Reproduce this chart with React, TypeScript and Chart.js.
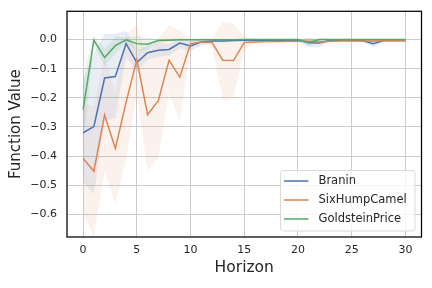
import React, { useEffect, useRef } from 'react';
import { Chart, registerables } from 'chart.js';

Chart.register(...registerables);

const horizon = [0, 1, 2, 3, 4, 5, 6, 7, 8, 9, 10, 11, 12, 13, 14, 15, 16, 17, 18, 19, 20, 21, 22, 23, 24, 25, 26, 27, 28, 29, 30];

const braninMean = [-0.32, -0.299, -0.132, -0.127, -0.014, -0.079, -0.045, -0.037, -0.034, -0.012, -0.022, -0.008, -0.005, -0.005, -0.003, -0.002, -0.002, -0.002, -0.002, -0.002, -0.002, -0.011, -0.012, -0.002, -0.002, -0.002, -0.003, -0.014, -0.003, -0.002, -0.003];
const braninLow = [-0.49, -0.53, -0.28, -0.27, -0.06, -0.11, -0.07, -0.06, -0.055, -0.03, -0.04, -0.02, -0.01, -0.01, -0.008, -0.006, -0.006, -0.006, -0.006, -0.006, -0.006, -0.026, -0.027, -0.006, -0.006, -0.006, -0.007, -0.028, -0.007, -0.006, -0.007];
const braninHigh = [-0.14, -0.05, 0.02, 0.02, 0.03, -0.04, -0.02, -0.01, -0.015, 0.005, -0.005, 0.004, 0.0, 0.0, 0.002, 0.002, 0.002, 0.002, 0.002, 0.002, 0.002, 0.004, 0.003, 0.002, 0.002, 0.002, 0.001, 0.0, 0.001, 0.002, 0.001];

const camelMean = [-0.408, -0.452, -0.259, -0.374, -0.216, -0.069, -0.258, -0.21, -0.071, -0.129, -0.014, -0.008, -0.01, -0.071, -0.072, -0.01, -0.008, -0.007, -0.007, -0.006, -0.006, -0.006, -0.008, -0.006, -0.005, -0.005, -0.005, -0.005, -0.004, -0.004, -0.004];
const camelLow = [-0.6, -0.675, -0.456, -0.565, -0.41, -0.19, -0.45, -0.405, -0.186, -0.278, -0.03, -0.02, -0.025, -0.21, -0.2, -0.03, -0.014, -0.012, -0.012, -0.011, -0.011, -0.011, -0.014, -0.011, -0.01, -0.01, -0.01, -0.01, -0.009, -0.009, -0.009];
const camelHigh = [-0.22, -0.23, -0.06, -0.18, 0.02, 0.05, -0.06, 0.0, 0.05, 0.03, 0.0, 0.004, 0.005, 0.06, 0.055, 0.01, -0.002, -0.002, -0.002, -0.001, -0.001, -0.001, -0.002, -0.001, 0.0, 0.0, 0.0, 0.0, 0.001, 0.001, 0.001];

const goldsteinMean = [-0.241, -0.002, -0.062, -0.021, -0.001, -0.014, -0.016, -0.003, -0.002, -0.001, -0.001, -0.001, -0.001, -0.001, -0.001, 0.0, 0.0, 0.0, 0.0, 0.0, 0.0, -0.01, 0.0, 0.0, 0.0, 0.0, 0.0, 0.0, 0.0, 0.0, 0.0];
const goldsteinLow = [-0.36, -0.02, -0.09, -0.05, -0.01, -0.04, -0.035, -0.01, -0.006, -0.004, -0.004, -0.004, -0.004, -0.004, -0.004, -0.003, -0.003, -0.003, -0.003, -0.003, -0.003, -0.025, -0.003, -0.003, -0.003, -0.003, -0.003, -0.003, -0.003, -0.003, -0.003];
const goldsteinHigh = [-0.12, 0.015, -0.03, 0.01, 0.008, 0.012, 0.005, 0.004, 0.003, 0.003, 0.003, 0.003, 0.003, 0.003, 0.003, 0.003, 0.003, 0.003, 0.003, 0.003, 0.003, 0.005, 0.003, 0.003, 0.003, 0.003, 0.003, 0.003, 0.003, 0.003, 0.003];

const seriesNames = ['Branin', 'SixHumpCamel', 'GoldsteinPrice'];
const xTicks = [0, 5, 10, 15, 20, 25, 30];
const yTicks = [0.0, -0.1, -0.2, -0.3, -0.4, -0.5, -0.6];

const FONT = "'DejaVu Sans', sans-serif";
const TEXT = '#262626';
const COLORS = ['#4C72B0', '#DD8452', '#55A868'];
const FILLS = ['rgba(76,114,176,0.12)', 'rgba(221,132,82,0.1)', 'rgba(85,168,104,0.12)'];

const pts = (arr: number[]) => horizon.map((x, i) => ({ x, y: arr[i] }));
const fmt = (v: number) => {
  const s = Math.abs(v).toFixed(1);
  return v < -1e-9 ? '\u2212' + s : s;
};

const framePlugin = {
  id: 'frame',
  afterDatasetsDraw(chart: any) {
    const { ctx, chartArea: a } = chart;
    ctx.save();
    ctx.strokeStyle = '#000';
    ctx.lineWidth = 1.25;
    ctx.strokeRect(a.left, a.top, a.right - a.left, a.bottom - a.top);
    ctx.restore();
  },
};

const legendPlugin = {
  id: 'innerLegend',
  afterDraw(chart: any) {
    const { ctx, chartArea: a } = chart;
    const items = chart.data.datasets.filter((d: any) => d.isLine);
    const boxW = 134.5;
    const boxH = 60.5;
    const x0 = a.right - 6.5 - boxW;
    const y0 = a.bottom - 6 - boxH;
    ctx.save();
    ctx.fillStyle = 'rgba(255,255,255,0.8)';
    ctx.strokeStyle = '#d9d9d9';
    ctx.lineWidth = 1;
    ctx.beginPath();
    if (ctx.roundRect) ctx.roundRect(x0, y0, boxW, boxH, 3);
    else ctx.rect(x0, y0, boxW, boxH);
    ctx.fill();
    ctx.stroke();
    ctx.font = `11.5px ${FONT}`;
    ctx.textBaseline = 'middle';
    ctx.textAlign = 'left';
    items.forEach((d: any, i: number) => {
      const cy = y0 + 10.5 + i * 19;
      ctx.strokeStyle = d.borderColor;
      ctx.lineWidth = 1.5;
      ctx.beginPath();
      ctx.moveTo(x0 + 3.5, cy);
      ctx.lineTo(x0 + 28, cy);
      ctx.stroke();
      ctx.fillStyle = TEXT;
      ctx.fillText(d.label, x0 + 38, cy);
    });
    ctx.restore();
  },
};

export default function App() {
  const ref = useRef<HTMLCanvasElement>(null);
  useEffect(() => {
    if (!ref.current) return;
    const means = [braninMean, camelMean, goldsteinMean];
    const lows = [braninLow, camelLow, goldsteinLow];
    const highs = [braninHigh, camelHigh, goldsteinHigh];
    const datasets: any[] = [];
    for (let s = 0; s < 3; s++) {
      datasets.push({
        label: '',
        data: pts(lows[s]),
        borderWidth: 0,
        pointRadius: 0,
        fill: false,
        order: 10,
        borderColor: 'rgba(0,0,0,0)',
      });
      datasets.push({
        label: '',
        data: pts(highs[s]),
        borderWidth: 0,
        pointRadius: 0,
        fill: '-1',
        backgroundColor: FILLS[s],
        order: 10,
        borderColor: 'rgba(0,0,0,0)',
      });
    }
    for (let s = 0; s < 3; s++) {
      datasets.push({
        label: seriesNames[s],
        isLine: true,
        data: pts(means[s]),
        borderColor: COLORS[s],
        backgroundColor: COLORS[s],
        borderWidth: 1.5,
        pointRadius: 0,
        tension: 0,
        fill: false,
        order: 3 - s,
      });
    }
    const chart = new Chart(ref.current, {
      type: 'line',
      data: { datasets },
      options: {
        animation: false,
        responsive: false,
        devicePixelRatio: 1,
        layout: { padding: { left: 0, top: 11.3, right: 10.5, bottom: 0 } },
        plugins: { legend: { display: false }, tooltip: { enabled: false } },
        scales: {
          x: {
            type: 'linear',
            min: -1.5,
            max: 31.5,
            afterBuildTicks: (scale: any) => {
              scale.ticks = xTicks.map((v) => ({ value: v }));
            },
            afterFit: (scale: any) => {
              scale.height = 51;
              scale.paddingLeft = 0;
              scale.paddingRight = 0;
            },
            ticks: {
              padding: 7,
              color: TEXT,
              font: { family: FONT, size: 11 },
              callback: (v: any) => String(v),
            },
            grid: { color: '#cccccc', lineWidth: 1, drawTicks: false },
            border: { display: false },
            title: {
              display: true,
              text: 'Horizon',
              color: TEXT,
              font: { family: FONT, size: 15.5 },
              padding: { top: 0, bottom: 10.7 },
            },
          },
          y: {
            type: 'linear',
            min: -0.678,
            max: 0.097,
            afterBuildTicks: (scale: any) => {
              scale.ticks = yTicks.map((v) => ({ value: v }));
            },
            afterFit: (scale: any) => {
              scale.width = 67;
              scale.paddingTop = 0;
              scale.paddingBottom = 0;
            },
            ticks: {
              padding: 10,
              color: TEXT,
              font: { family: FONT, size: 11 },
              callback: (v: any) => fmt(Number(v)),
            },
            grid: { color: '#cccccc', lineWidth: 1, drawTicks: false },
            border: { display: false },
            title: {
              display: true,
              text: 'Function Value',
              color: TEXT,
              font: { family: FONT, size: 15 },
              padding: { top: 7.5, bottom: 0 },
            },
          },
        },
      },
      plugins: [framePlugin, legendPlugin],
    } as any);
    return () => chart.destroy();
  }, []);
  return (
    <div style={{ position: 'fixed', left: 0, top: 0, width: 432, height: 288, background: '#fff' }}>
      <canvas ref={ref} width={432} height={288} style={{ width: 432, height: 288, display: 'block' }} />
    </div>
  );
}
